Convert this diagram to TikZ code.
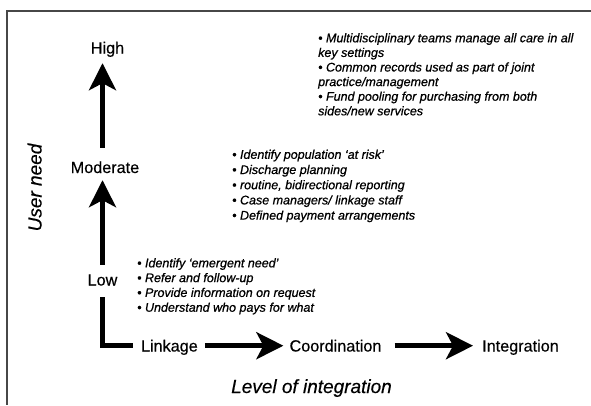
\documentclass[tikz,border=0pt]{standalone}
\usepackage{fontspec}
\setmainfont{Liberation Sans}
\newfontfamily\notesfont[FakeBold=0.7]{Liberation Sans}
\newfontfamily\lblfont[FakeBold=0.4]{Liberation Sans}
\usetikzlibrary{arrows.meta}
\begin{document}
\begin{tikzpicture}[x=1pt,y=-1pt,
  lvl/.style={font=\lblfont\fontsize{16.2}{19}\selectfont, inner sep=0pt, text height=11.6pt, text depth=0pt, anchor=base},
  axistitle/.style={font=\lblfont\fontsize{19}{22}\selectfont\itshape, inner sep=0pt, anchor=base},
  notes/.style={font=\notesfont\fontsize{12.5}{#1}\selectfont\itshape, inner sep=0pt, anchor=base west},
  bigarrow/.style={line width=4.5pt, -{Stealth[length=27pt,width=27pt,inset=7pt]}},
  bigline/.style={line width=4.5pt},
  frameline/.style={draw=black!72, line width=1.8pt}]
\useasboundingbox (0,0) rectangle (591,405);
\draw[frameline] (591,11) -- (7,11) -- (7,405);

% level labels
\node[lvl] (high) at (107.5,53.5) {High};
\node[lvl] (moderate) at (105,173) {Moderate};
\node[lvl] (low) at (102.5,285.5) {Low};
\node[lvl] (linkage) at (169.4,351.5) {Linkage};
\node[lvl] (coordination) at (335.5,351.5) {Coordination};
\node[lvl] (integration) at (520.5,351.5) {Integration};

% axis titles
\node[axistitle, rotate=90] (userneed) at (41.5,187.5) {User need};
\node[axistitle] (levelint) at (311.5,393) {Level of integration};

% connectors
\draw[bigarrow, shorten <=8.9pt, shorten >=7pt] (low.north) -- (low |- moderate.south);
\draw[bigarrow, shorten <=13.4pt, shorten >=9.5pt] (moderate.north -| low) -- (high.south -| low);
\draw[bigline, shorten <=11.5pt, shorten >=7.7pt] (low.south) |- (linkage.west);
\draw[bigarrow, shorten <=7pt, shorten >=6pt] (linkage.east) -- (coordination.west);
\draw[bigarrow, shorten <=13pt, shorten >=9pt] (coordination.east) -- (integration.west);

% notes
\node[notes=14.6] (notesint) at (318,42.3) {\begin{tabular}[t]{@{}l@{}}
• Multidisciplinary teams manage all care in all\\
key settings\\
• Common records used as part of joint\\
practice/management\\
• Fund pooling for purchasing from both\\
sides/new services
\end{tabular}};
\node[notes=15.2] (notescoord) at (232,158.8) {\begin{tabular}[t]{@{}l@{}}
• Identify population ‘at risk’\\
• Discharge planning\\
• routine, bidirectional reporting\\
• Case managers/ linkage staff\\
• Defined payment arrangements
\end{tabular}};
\node[notes=14.8] (noteslink) at (137,267.3) {\begin{tabular}[t]{@{}l@{}}
• Identify ‘emergent need’\\
• Refer and follow-up\\
• Provide information on request\\
• Understand who pays for what
\end{tabular}};
\end{tikzpicture}
\end{document}
